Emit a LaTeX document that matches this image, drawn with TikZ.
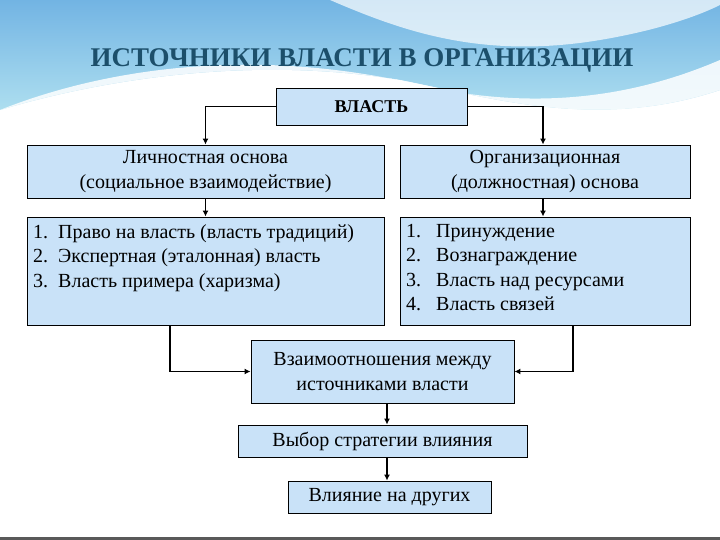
\documentclass[tikz,border=0pt]{standalone}
\usepackage{fontspec}
\setmainfont{Liberation Serif}
\usetikzlibrary{arrows.meta}
\definecolor{boxfill}{HTML}{C9E2F8}
\definecolor{titlec}{HTML}{1C4F6B}
\definecolor{wave1}{HTML}{7FC8E0}
\definecolor{wave2}{HTML}{B8E6F2}
\tikzset{
  bx/.style={draw=black, line width=0.9pt, fill=boxfill, inner sep=0pt},
  conn/.style={line width=1.8pt, -{Latex[length=6pt,width=6pt]}},
}
\begin{document}
\begin{tikzpicture}[x=1pt,y=-1pt, font=\fontsize{20}{24.5}\selectfont]
\useasboundingbox (0,0) rectangle (720,540);
\fill[white] (0,0) rectangle (720,540);
% background waves
\shade[top color=wave1!90!blue, bottom color=wave2] (0,0) -- (720,0) -- (720,90) .. controls (600,130) and (500,100) .. (400,80) .. controls (250,55) and (100,80) .. (0,110) -- cycle;
\fill[white, opacity=0.85] (0,110) .. controls (100,70) and (250,45) .. (420,85) .. controls (550,115) and (650,90) .. (720,60) -- (720,90) .. controls (600,130) and (500,100) .. (400,80) .. controls (250,55) and (100,80) .. (0,110) -- cycle;
\fill[white, opacity=0.7] (330,0) .. controls (400,30) and (480,60) .. (600,40) .. controls (660,30) and (700,15) .. (720,5) -- (720,0) -- cycle;
\fill[white] (0,112) .. controls (100,82) and (250,58) .. (400,83) .. controls (500,102) and (600,128) .. (720,92) -- (720,540) -- (0,540) -- cycle;
\draw[gray!70!black, line width=3pt] (0,538) -- (720,538);
% title
\node (title) at (362,60) {\fontsize{27}{32}\selectfont\bfseries\color{titlec}ИСТОЧНИКИ ВЛАСТИ В ОРГАНИЗАЦИИ};
% boxes
\node[bx, minimum width=191, minimum height=37] (vl) at (371.5,106.5) {\bfseries\fontsize{18}{22}\selectfont ВЛАСТЬ};
\node[bx, minimum width=357, minimum height=53, align=center] (lt) at (205.5,171.5) {Личностная основа\\(социальное взаимодействие)};
\node[bx, minimum width=290, minimum height=53, align=center] (rt) at (545,171.5) {Организационная\\(должностная) основа};
\node[bx, minimum width=357, minimum height=108] (ll) at (205.5,271) {};
\node[anchor=north west, align=left, inner sep=0pt] (llt) at (33,224) {1.~~Право на власть (власть традиций)\\2.~~Экспертная (эталонная) власть\\3.~~Власть примера (харизма)};
\node[bx, minimum width=290, minimum height=108] (rl) at (545,271) {};
\node[anchor=north west, align=left, inner sep=0pt] (rlt) at (406,224) {1.~~~Принуждение\\2.~~~Вознаграждение\\3.~~~Власть над ресурсами\\4.~~~Власть связей};
\node[bx, minimum width=263, minimum height=63, align=center] (rel) at (382.5,371.5) {Взаимоотношения между\\источниками власти};
\node[bx, minimum width=289, minimum height=32] (str) at (382.5,441) {Выбор стратегии влияния};
\node[bx, minimum width=203, minimum height=32] (inf) at (389.5,497) {Влияние на других};
% connectors
\draw[conn] (vl.west) -| (lt.north);
\draw[conn] (vl.east) -| ([xshift=-2]rt.north);
\draw[conn] (lt.south) -- (ll.north);
\draw[conn] ([xshift=-2]rt.south) -- ([xshift=-2]rl.north);
\draw[conn] ([xshift=-35.5]ll.south) |- (rel.west);
\draw[conn] ([xshift=28]rl.south) |- (rel.east);
\draw[conn] ([xshift=4.5]rel.south) -- ([xshift=4.5]str.north);
\draw[conn] ([xshift=4.5]str.south) -- ([xshift=-2.5]inf.north);
\end{tikzpicture}
\end{document}
